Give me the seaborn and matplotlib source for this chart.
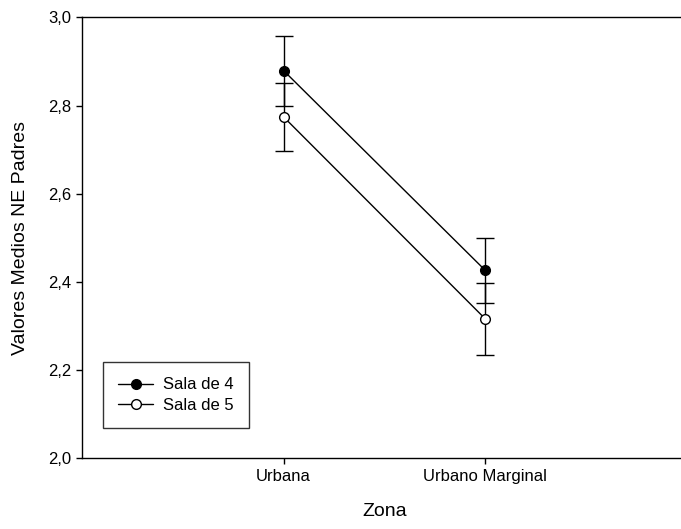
import numpy as np
import pandas as pd
import matplotlib
matplotlib.use("Agg")
import matplotlib.pyplot as plt
import seaborn as sns

# Data
zonas = ["Urbana", "Urbano Marginal"]
sala4_mean = [2.879, 2.426]
sala4_err = [0.079, 0.074]
sala5_mean = [2.774, 2.316]
sala5_err = [0.078, 0.082]
y_ticks = [2.0, 2.2, 2.4, 2.6, 2.8, 3.0]

df = pd.DataFrame({
    "Zona": zonas * 2,
    "valor": sala4_mean + sala5_mean,
    "err": sala4_err + sala5_err,
    "grupo": ["Sala de 4"] * 2 + ["Sala de 5"] * 2,
})

sns.set_style("ticks")
plt.rcParams["font.family"] = ["Liberation Sans", "DejaVu Sans"]
plt.rcParams["text.color"] = "black"
plt.rcParams["axes.labelcolor"] = "black"
plt.rcParams["xtick.color"] = "black"
plt.rcParams["ytick.color"] = "black"

fig = plt.figure(figsize=(6.81, 5.29), dpi=100)
ax = fig.add_axes([82 / 681, (529 - 458.3) / 529, 605 / 681, 441 / 529])

face = {"Sala de 4": "black", "Sala de 5": "white"}
xpos = np.arange(len(zonas))
for g, sub in df.groupby("grupo"):
    ax.errorbar(xpos, sub["valor"], yerr=sub["err"], fmt="none",
                ecolor="black", elinewidth=1, capsize=6.5, capthick=1, zorder=2)
    sns.lineplot(data=sub, x="Zona", y="valor", ax=ax, color="black", lw=1,
                 marker="o", markersize=7, markerfacecolor=face[g],
                 markeredgecolor="black", markeredgewidth=1, label=g,
                 zorder=3, sort=False)

ax.set_xlim(-1, 2)
ax.set_ylim(2.0, 3.0)
ax.set_xticks(xpos)
ax.set_xticklabels(zonas, fontsize=12)
ax.set_yticks(y_ticks)
ax.set_yticklabels([f"{v:.1f}".replace(".", ",") for v in y_ticks], fontsize=12)
ax.tick_params(direction="out", length=4, width=1, color="black", labelcolor="black")
ax.set_xlabel("Zona", fontsize=14, labelpad=14)
ax.set_ylabel("Valores Medios NE Padres", fontsize=14, labelpad=14)
for s in ax.spines.values():
    s.set_color("black")
    s.set_linewidth(1)

leg = ax.legend(loc="lower left", bbox_to_anchor=(21 / 605, 30 / 441),
                borderaxespad=0, fontsize=12, frameon=True, fancybox=False,
                edgecolor="black", handlelength=2.1, handletextpad=0.6,
                borderpad=0.9, labelspacing=0.35)
leg.get_frame().set_linewidth(1)

fig.savefig("out.png", dpi=100)
